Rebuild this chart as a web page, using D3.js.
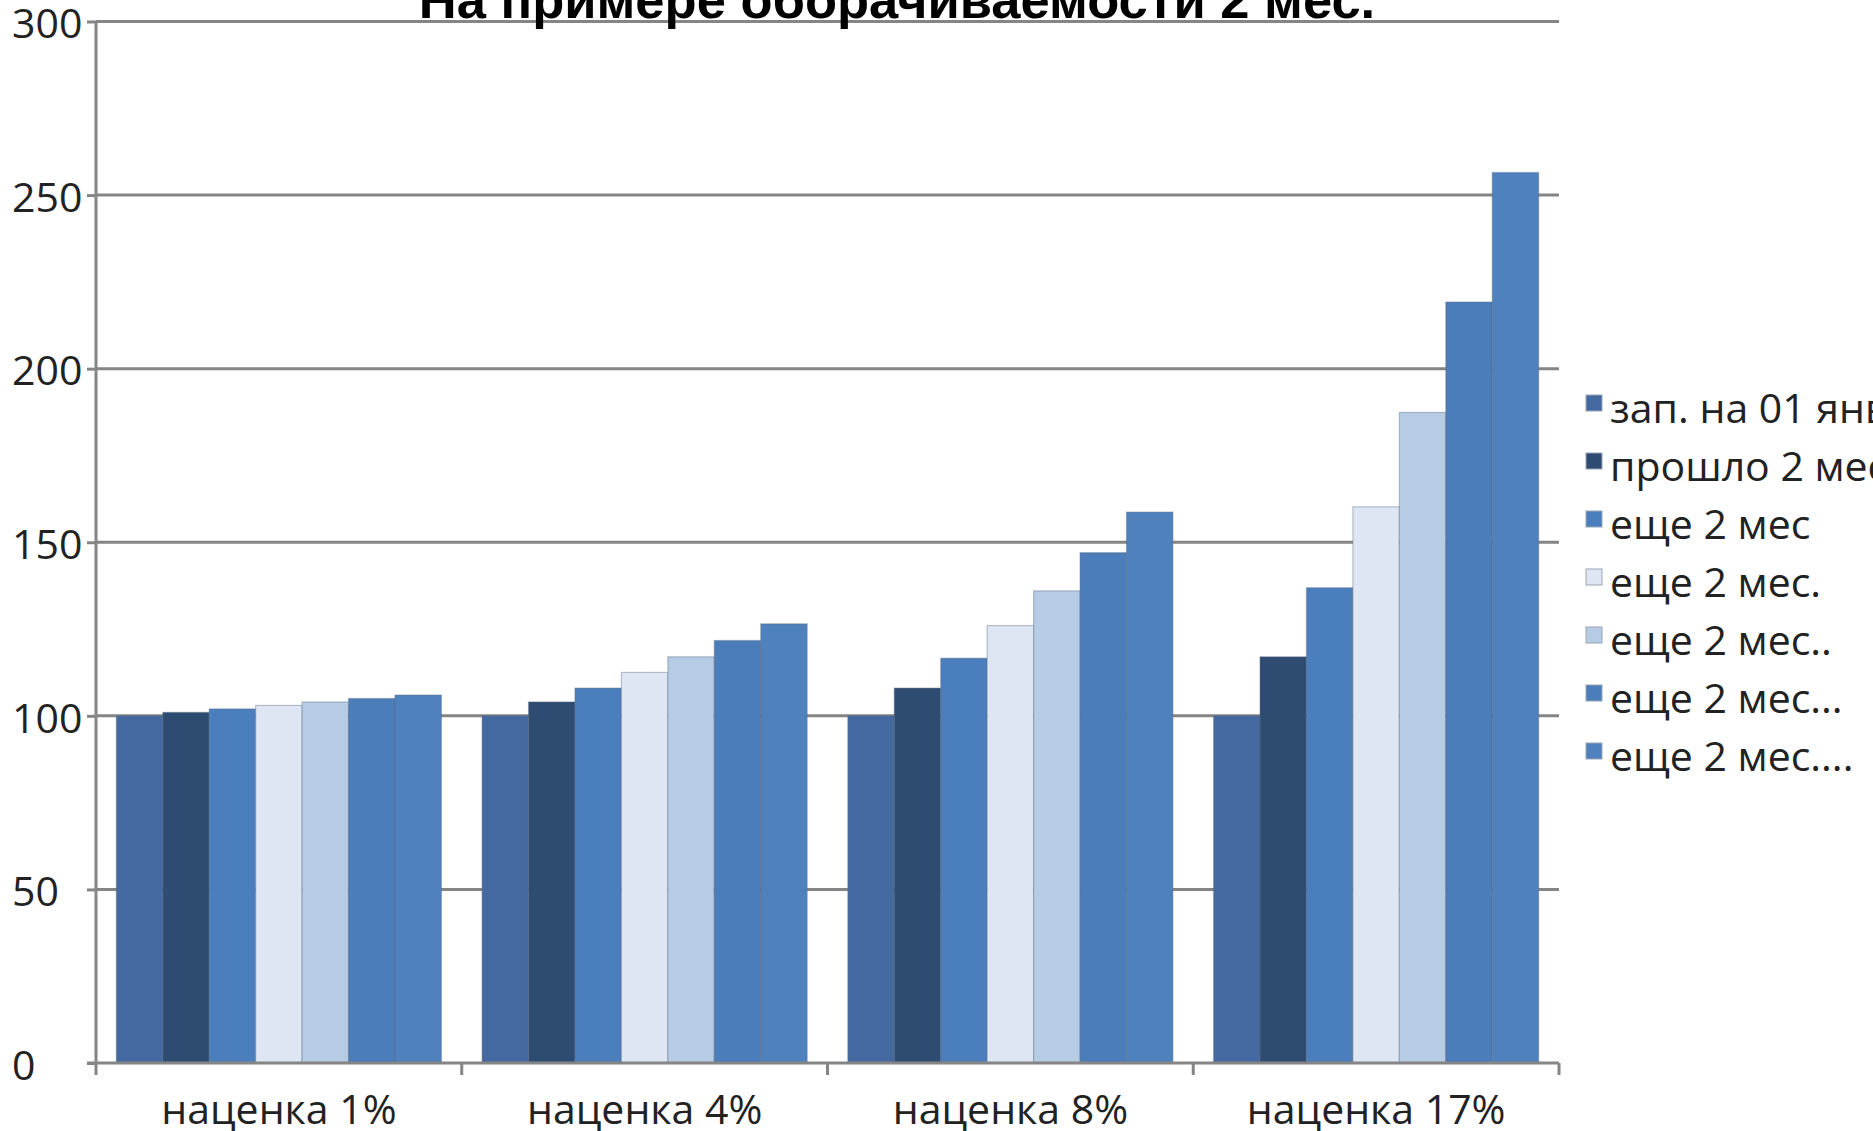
<!DOCTYPE html>
<html>
<head>
<meta charset="utf-8">
<script src="https://cdn.jsdelivr.net/npm/d3@7"></script>
<style>
  html, body { margin: 0; padding: 0; background: #fff; overflow: hidden; }
  svg { display: block; }
</style>
</head>
<body>
<div id="chart"></div>
<script>
// data
const title = 'На примере оборачиваемости 2 мес.';
const categories = ['наценка 1%', 'наценка 4%', 'наценка 8%', 'наценка 17%'];
const seriesNames = ['зап. на 01 янв', 'прошло 2 мес', 'еще 2 мес', 'еще 2 мес.', 'еще 2 мес..', 'еще 2 мес...', 'еще 2 мес....'];
const seriesColors = ['#4369a0', '#2e4b72', '#4b7ebd', '#dde6f2', '#b6cbe4', '#4a7dba', '#4f81bd'];
// values[series][category]
const values = [
    [100, 100, 100, 100],
    [101, 104, 108, 117],
    [102, 108, 116.6, 136.9],
    [103, 112.5, 126, 160.2],
    [104, 117, 136, 187.4],
    [105, 121.7, 147, 219.2],
    [106, 126.5, 158.7, 256.5]
];
const yTicks = [0, 50, 100, 150, 200, 250, 300];

const W = 1873, H = 1131;
const margin = { left: 96, right: 1559, top: 21.5, bottom: 1063 };

const svg = d3.select('#chart')
    .append('svg')
    .attr('width', W)
    .attr('height', H)
    .attr('viewBox', `0 0 ${W} ${H}`);

const x0 = d3.scaleBand()
    .domain(categories)
    .range([margin.left, margin.right])
    .paddingInner(0)
    .paddingOuter(0);

// excel-style gap: half a bar on each side of the group
const x1 = d3.scaleBand()
    .domain(d3.range(seriesNames.length))
    .range([0, x0.bandwidth()])
    .paddingOuter(0.5 * seriesNames.length / (seriesNames.length + 1))
    .paddingInner(0);

const y = d3.scaleLinear()
    .domain([0, 300])
    .range([margin.bottom, margin.top]);

const gridColor = '#858585';
const gridWidth = 3;

// y tick marks
svg.append('g')
    .attr('transform', `translate(${margin.left},0)`)
    .call(d3.axisLeft(y).tickValues(yTicks).tickSize(9).tickFormat(''))
    .call(g => g.select('.domain').remove())
    .call(g => g.selectAll('.tick line').attr('stroke', gridColor).attr('stroke-width', gridWidth));

// gridlines
svg.append('g')
    .selectAll('line')
    .data(yTicks.filter(d => d > 0))
    .join('line')
    .attr('x1', margin.left)
    .attr('x2', margin.right)
    .attr('y1', d => y(d))
    .attr('y2', d => y(d))
    .attr('stroke', gridColor)
    .attr('stroke-width', gridWidth);

// y tick labels, left aligned
svg.append('g')
    .selectAll('text')
    .data(yTicks)
    .join('text')
    .attr('x', 12)
    .attr('y', d => y(d) + 2)
    .attr('dy', '0.36em')
    .attr('font-family', 'Open Sans, sans-serif')
    .attr('font-size', 41)
    .attr('fill', '#222')
    .text(d => d);

// bars
const groups = svg.append('g')
    .selectAll('g')
    .data(categories)
    .join('g')
    .attr('transform', d => `translate(${x0(d)},0)`);

groups.selectAll('rect')
    .data((c, ci) => values.map((s, si) => ({ si, v: s[ci] })))
    .join('rect')
    .attr('x', d => x1(d.si))
    .attr('width', x1.bandwidth())
    .attr('y', d => y(d.v))
    .attr('height', d => y(0) - y(d.v))
    .attr('fill', d => seriesColors[d.si])
    .attr('stroke', '#5a6b80')
    .attr('stroke-opacity', 0.4)
    .attr('stroke-width', 1.2);

// x axis
svg.append('g')
    .attr('transform', `translate(0,${margin.bottom})`)
    .call(g => g.append('line')
        .attr('x1', margin.left - 9).attr('x2', margin.right)
        .attr('stroke', gridColor).attr('stroke-width', gridWidth))
    .call(g => g.selectAll('.cat-tick')
        .data(categories.map(c => x0(c)).concat([margin.right]))
        .join('line')
        .attr('class', 'cat-tick')
        .attr('x1', d => d).attr('x2', d => d)
        .attr('y1', 0).attr('y2', 12)
        .attr('stroke', gridColor).attr('stroke-width', gridWidth));

// y axis line
svg.append('line')
    .attr('x1', margin.left).attr('x2', margin.left)
    .attr('y1', margin.top).attr('y2', margin.bottom)
    .attr('stroke', gridColor)
    .attr('stroke-width', gridWidth);

// category labels
svg.append('g')
    .selectAll('text')
    .data(categories)
    .join('text')
    .attr('x', d => x0(d) + x0.bandwidth() / 2)
    .attr('y', 1124)
    .attr('text-anchor', 'middle')
    .attr('font-family', 'Open Sans, sans-serif')
    .attr('font-size', 41)
    .attr('fill', '#222')
    .text(d => d);

// title (cut off at the top, as in the picture)
svg.append('text')
    .attr('x', 897)
    .attr('y', 18)
    .attr('text-anchor', 'middle')
    .attr('font-family', 'Liberation Sans, Arial, sans-serif')
    .attr('font-weight', 'bold')
    .attr('font-size', 52.5)
    .attr('fill', '#000')
    .text(title);

// legend
const legend = svg.append('g')
    .selectAll('g')
    .data(seriesNames)
    .join('g')
    .attr('transform', (d, i) => `translate(1586,${406 + i * 58})`);

legend.append('rect')
    .attr('x', 0)
    .attr('y', -11)
    .attr('width', 16)
    .attr('height', 16)
    .attr('fill', (d, i) => seriesColors[i])
    .attr('stroke', '#9aa5b5')
    .attr('stroke-width', 1);

legend.append('text')
    .attr('x', 24)
    .attr('y', 2)
    .attr('dy', '0.36em')
    .attr('font-family', 'Open Sans, sans-serif')
    .attr('font-size', 41)
    .attr('fill', '#222')
    .text(d => d);
</script>
</body>
</html>
